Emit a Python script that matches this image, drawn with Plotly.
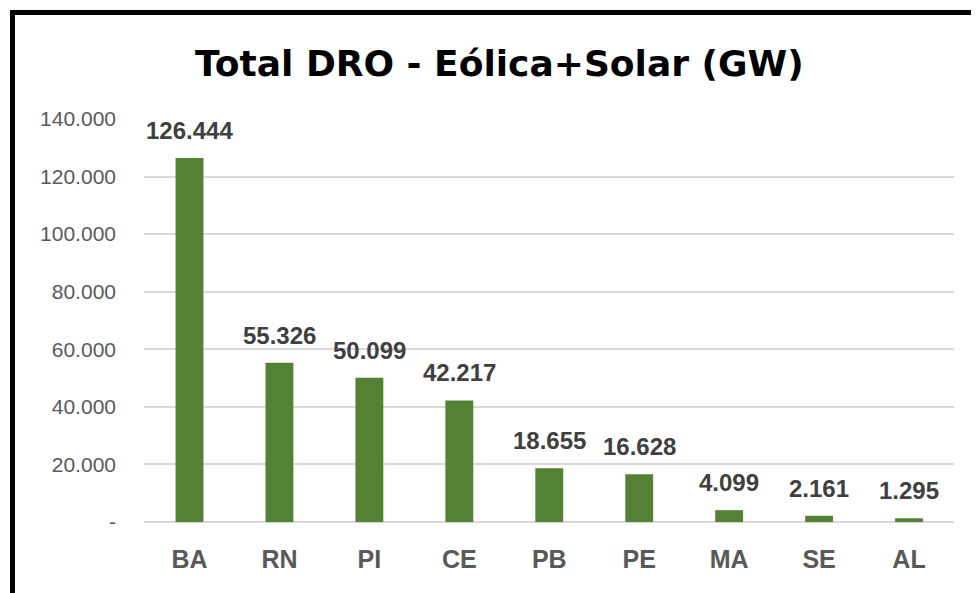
import plotly.graph_objects as go

categories = ["BA", "RN", "PI", "CE", "PB", "PE", "MA", "SE", "AL"]
values = [126.444, 55.326, 50.099, 42.217, 18.655, 16.628, 4.099, 2.161, 1.295]
ytick_vals = [0, 20, 40, 60, 80, 100, 120, 140]
ytick_text = ["-", "20.000", "40.000", "60.000", "80.000", "100.000", "120.000", "140.000"]
title_text = "Total DRO - Eólica+Solar (GW)"

# page body has an 8px default margin; positions below are reference pixels
OFF = 8
W, H = 979, 593
ML, MT = 144 - OFF, 119 - OFF
MR = W - (954 - OFF)
MB = H - (522 - OFF)
PW, PH = W - ML - MR, H - MT - MB

def px_x(p):
    return (p - OFF - ML) / PW

def px_y(p):
    return 1 - (p - OFF - MT) / PH

fig = go.Figure()
fig.add_trace(go.Bar(
    x=categories, y=values,
    marker=dict(color="#548235", line=dict(width=0)),
    hoverinfo="skip",
))

for c, v in zip(categories, values):
    fig.add_annotation(
        x=c, y=v, text="<b>%.3f</b>" % v, showarrow=False,
        yanchor="bottom", yshift=12,
        font=dict(family="Liberation Sans, Arial, sans-serif", size=24, color="#404040"),
    )

fig.add_annotation(
    x=px_x(499), y=px_y(64), xref="paper", yref="paper",
    text="<b>" + title_text + "</b>", showarrow=False,
    xanchor="center", yanchor="middle",
    font=dict(family="DejaVu Sans, Liberation Sans, sans-serif", size=36, color="#000000"),
)

# frame
fig.add_shape(type="line", xref="paper", yref="paper",
              x0=px_x(12.5), x1=px_x(12.5), y0=px_y(10), y1=px_y(620),
              line=dict(color="#000000", width=5))
fig.add_shape(type="line", xref="paper", yref="paper",
              x0=px_x(10), x1=px_x(1000), y0=px_y(12.5), y1=px_y(12.5),
              line=dict(color="#000000", width=5))

fig.update_layout(
    width=W, height=H,
    margin=dict(l=ML, r=MR, t=MT, b=MB, pad=0),
    paper_bgcolor="white", plot_bgcolor="white",
    showlegend=False,
    bargap=0.69,
    xaxis=dict(
        showgrid=False, showline=False, zeroline=False,
        ticks="", ticklabelstandoff=20,
        tickfont=dict(family="Liberation Sans, Arial, sans-serif", size=25, color="#595959"),
        tickprefix="<b>", ticksuffix="</b>",
    ),
    yaxis=dict(
        range=[0, 140], tickvals=ytick_vals, ticktext=ytick_text,
        showgrid=True, gridcolor="#d9d9d9", gridwidth=1.5,
        zeroline=True, zerolinecolor="#d9d9d9", zerolinewidth=1.5,
        showline=False, ticks="", ticklabelstandoff=27,
        tickfont=dict(family="Liberation Sans, Arial, sans-serif", size=21, color="#595959"),
    ),
)

fig.write_html("out.html")
